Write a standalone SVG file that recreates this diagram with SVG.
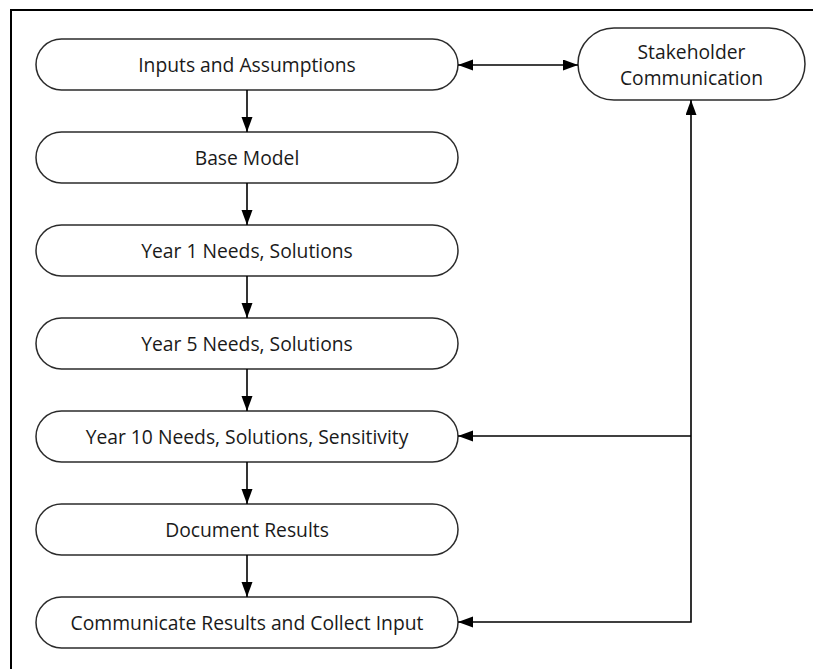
<svg xmlns="http://www.w3.org/2000/svg" width="813" height="669" viewBox="0 0 813 669">
<style>
.box{fill:#fff;stroke:#2b2b2b;stroke-width:1.5}
.lbl{font-family:"Open Sans","Liberation Sans",sans-serif;font-size:19.3px;fill:#1a1a1a;text-anchor:middle;dominant-baseline:central}
.conn{stroke:#000;stroke-width:1.6;fill:none}
</style>
<defs>
<marker id="ah" markerWidth="16" markerHeight="12" refX="15" refY="5.5" orient="auto-start-reverse" markerUnits="userSpaceOnUse">
<path d="M0,0 L15,5.5 L0,11 Z" fill="#000"/>
</marker>
</defs>
<rect x="11" y="10" width="820" height="700" fill="#fff" stroke="#000" stroke-width="2"/>
<g id="n1"><rect class="box" x="36" y="39" width="422" height="51" rx="25.5"/><text class="lbl" x="247" y="64">Inputs and Assumptions</text></g>
<g id="n2"><rect class="box" x="36" y="132" width="422" height="51" rx="25.5"/><text class="lbl" x="247" y="157">Base Model</text></g>
<g id="n3"><rect class="box" x="36" y="225" width="422" height="51" rx="25.5"/><text class="lbl" x="247" y="250">Year 1 Needs, Solutions</text></g>
<g id="n4"><rect class="box" x="36" y="318" width="422" height="51" rx="25.5"/><text class="lbl" x="247" y="343">Year 5 Needs, Solutions</text></g>
<g id="n5"><rect class="box" x="36" y="411" width="422" height="51" rx="25.5"/><text class="lbl" x="247" y="436">Year 10 Needs, Solutions, Sensitivity</text></g>
<g id="n6"><rect class="box" x="36" y="504" width="422" height="51" rx="25.5"/><text class="lbl" x="247" y="529">Document Results</text></g>
<g id="n7"><rect class="box" x="36" y="597" width="422" height="51" rx="25.5"/><text class="lbl" x="247" y="622">Communicate Results and Collect Input</text></g>
<g id="n8"><rect class="box" x="578" y="28" width="227" height="72" rx="36"/><text class="lbl" x="691.5" y="51">Stakeholder</text><text class="lbl" x="691.5" y="77">Communication</text></g>
<g id="connectors">
<line class="conn" x1="247" y1="90" x2="247" y2="132" marker-end="url(#ah)"/>
<line class="conn" x1="247" y1="183" x2="247" y2="225" marker-end="url(#ah)"/>
<line class="conn" x1="247" y1="276" x2="247" y2="318" marker-end="url(#ah)"/>
<line class="conn" x1="247" y1="369" x2="247" y2="411" marker-end="url(#ah)"/>
<line class="conn" x1="247" y1="462" x2="247" y2="504" marker-end="url(#ah)"/>
<line class="conn" x1="247" y1="555" x2="247" y2="597" marker-end="url(#ah)"/>
<line class="conn" x1="458" y1="65" x2="578" y2="65" marker-start="url(#ah)" marker-end="url(#ah)"/>
<polyline class="conn" points="458,622 691,622 691,100" marker-start="url(#ah)" marker-end="url(#ah)"/>
<line class="conn" x1="691" y1="436" x2="458" y2="436" marker-end="url(#ah)"/>
</g>
</svg>
